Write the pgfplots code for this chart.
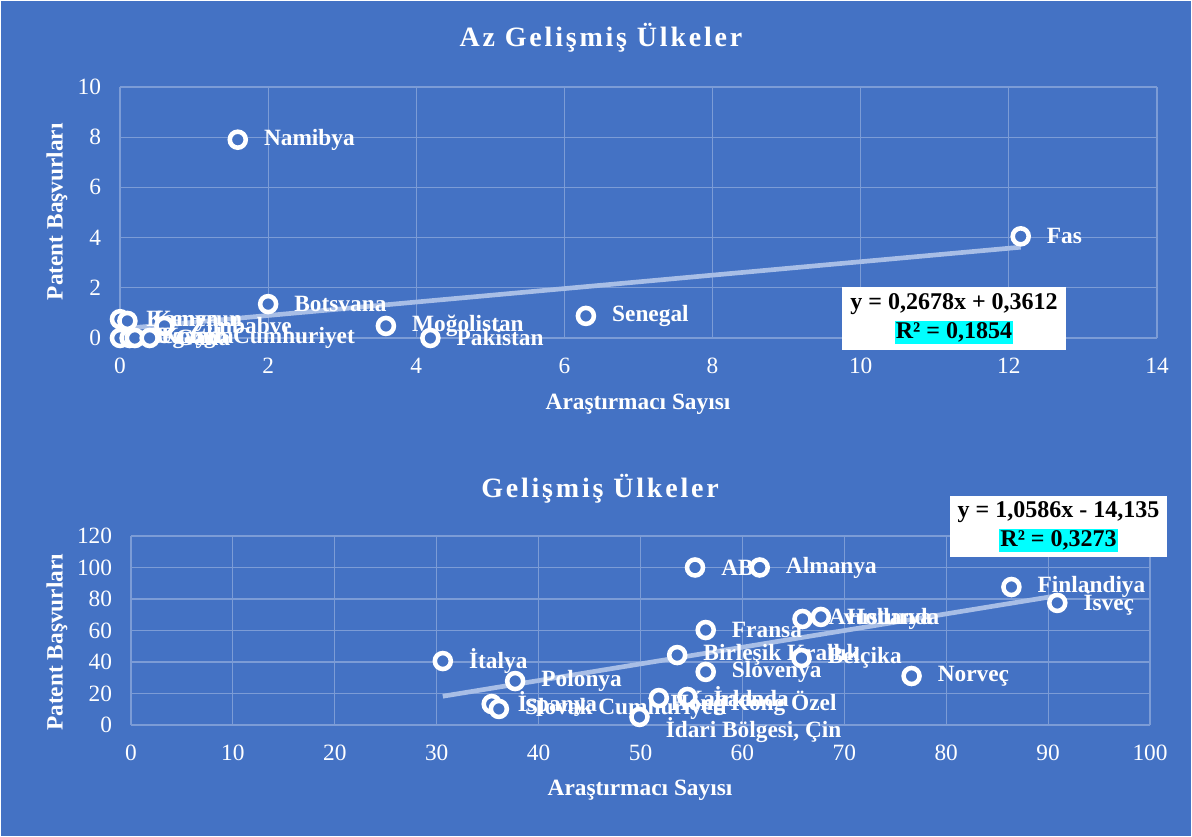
\documentclass[border=0pt]{standalone}
\usepackage{pgfplots}
\pgfplotsset{compat=1.18}
\usepackage{fontspec}
\setmainfont{Liberation Serif}
\definecolor{bg}{HTML}{4472C4}
\definecolor{gridc}{HTML}{7C9CD6}
\definecolor{trend}{HTML}{A8BEE6}
\definecolor{aqua}{RGB}{0,255,255}
\pgfplotsset{
  mystyle/.style={
    scale only axis,
    axis line style={draw=none},
    tick style={draw=none},
    xmajorgrids, ymajorgrids,
    major grid style={gridc, line width=0.8pt},
    /pgf/number format/assume math mode=true,
    ticklabel style={font=\fontsize{17.5}{19}\selectfont, text=white, inner sep=0pt},
    xticklabel style={anchor=center, yshift=-21pt},
    yticklabel style={anchor=east, xshift=-14pt},
    clip=false,
  },
  pts/.style={
    only marks, mark=*,
    mark size=6pt,
    mark options={draw=white, fill=bg, line width=3.4pt},
    nodes near coords,
    point meta=explicit symbolic,
    every node near coord/.style={anchor=west, xshift=18pt, inner sep=0pt,
      font=\bfseries\fontsize{17.5}{20}\selectfont, text=white, align=center},
  },
  trendl/.style={trend, line width=3.5pt, no marks},
}
\begin{document}
\begin{tikzpicture}
\fill[white] (0,0) rectangle (894pt,627.75pt);
\fill[bg] (1pt,1pt) rectangle (893pt,626.75pt);
% top chart
\begin{axis}[mystyle,
  at={(90pt,374.25pt)}, anchor=south west,
  width=777.75pt, height=188.25pt,
  xmin=0, xmax=14, ymin=0, ymax=10,
  xtick={0,2,...,14}, ytick={0,2,...,10}]
\addplot[trendl] coordinates {(0,0.3612) (12.16,3.6175)};
\addplot[pts] coordinates {
  (1.59,7.9) [Namibya]
  (12.16,4.05) [Fas]
  (2.0,1.35) [Botsvana]
  (3.59,0.48) [Moğolistan]
  (4.19,0.0) [Pakistan]
  (6.29,0.88) [Senegal]
  (0.0,0.75) [Kamerun]
  (0.1,0.68) [Kenya]
  (0.6,0.48) [Zimbabve]
  (0.0,0.0) [Cezayir]
  (0.13,0.0) [Uganda]
  (0.2,0.0) [Kongo Cumhuriyet]
  (0.4,0.0) [Gana]
};
\end{axis}
% bottom chart
\begin{axis}[mystyle,
  at={(98.25pt,84pt)}, anchor=south west,
  width=764.25pt, height=141.75pt,
  xmin=0, xmax=100, ymin=0, ymax=120,
  xtick={0,10,...,100}, ytick={0,20,...,120}]
\addplot[trendl] coordinates {(30.6,18.26) (90.9,82.09)};
\addplot[pts] coordinates {
  (55.35,100) [ABD]
  (61.7,100) [Almanya]
  (86.4,87.6) [Finlandiya]
  (90.9,77.5) [İsveç]
  (67.7,68.6) [Hollanda]
  (65.9,67.3) [Avusturya]
  (56.4,60.3) [Fransa]
  (53.6,44.4) [Birleşik Krallık]
  (65.8,42.5) [Belçika]
  (56.4,33.7) [Slovenya]
  (76.6,31.1) [Norveç]
  (30.6,40.6) [İtalya]
  (37.7,27.9) [Polonya]
  (35.4,13.3) [İspanya]
  (36.1,10.2) [Slovak Cumhuriyeti]
  (51.8,17.1) [Kanada]
  (54.6,17.8) [İrlanda]
  (49.9,5.1) [{Hong Kong Özel\\İdari Bölgesi, Çin}]
};
\end{axis}
% titles and labels
\node[text=white, font=\bfseries\fontsize{21}{24}\selectfont\addfontfeatures{LetterSpace=10}] at (450.75pt,599.25pt) {Az Gelişmiş Ülkeler};
\node[text=white, font=\bfseries\fontsize{21}{24}\selectfont\addfontfeatures{LetterSpace=10}] at (450pt,261pt) {Gelişmiş Ülkeler};
\node[text=white, font=\bfseries\fontsize{17.5}{20}\selectfont] at (478.5pt,324.75pt) {Araştırmacı Sayısı};
\node[text=white, font=\bfseries\fontsize{17.5}{20}\selectfont] at (480pt,35.25pt) {Araştırmacı Sayısı};
\node[text=white, rotate=90, font=\bfseries\fontsize{17.5}{20}\selectfont] at (42.75pt,469pt) {Patent Başvurları};
\node[text=white, rotate=90, font=\bfseries\fontsize{17.5}{20}\selectfont] at (42.75pt,146pt) {Patent Başvurları};
% equation boxes
\node[fill=white, text=black, align=center, inner xsep=6pt, inner ysep=5pt,
  font=\bfseries\fontsize{18}{22}\selectfont] at (715.5pt,388.9pt)
  {y = 0,2678x + 0,3612\\{\setlength{\fboxsep}{1pt}\colorbox{aqua}{R² = 0,1854}}};
\node[fill=white, text=black, align=center, inner xsep=6pt, inner ysep=4pt,
  font=\bfseries\fontsize{18}{22}\selectfont] at (793.9pt,232.9pt)
  {y = 1,0586x - 14,135\\{\setlength{\fboxsep}{1pt}\colorbox{aqua}{R² = 0,3273}}};
\end{tikzpicture}
\end{document}
